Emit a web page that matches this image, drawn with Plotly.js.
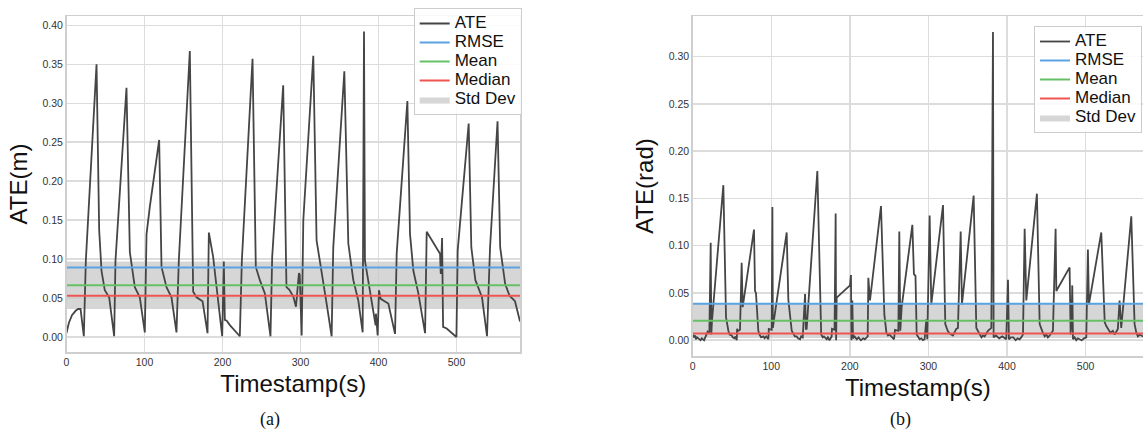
<!DOCTYPE html>
<html>
<head>
<meta charset="utf-8">
<script src="https://cdn.plot.ly/plotly-3.0.1.min.js"></script>
<style>html,body{margin:0;padding:0;background:#fff}#chart{width:1143px;height:432px}</style>
</head>
<body>
<div id="chart"></div>
<script>
// ---- (a) translational ATE (m) ----
const tA = [0, 3, 7, 12, 15, 18, 22.2, 24.8, 38.5, 41.9, 44.9, 49.1, 54.7, 61.1, 62.8, 76.9, 81.2, 87.6, 94, 100.4,
  102.6, 106.8, 118.8, 121.8, 128.2, 134.6, 141, 144, 158.1, 162.4, 166.7, 174.4, 180.8, 182.5, 188, 199.6,
  201.7, 203.0, 205.4, 209.7, 222.2, 224.8, 238.5, 242.7, 247.9, 254.3, 261.5, 263.7, 277.8, 282, 285.5, 290.8,
  294.2, 298, 299, 301.5, 303.6, 316.4, 320.6, 327, 333.5, 339.9, 342, 356.2, 361.3, 367.7, 374.1, 379.7, 381.4,
  382.6, 389, 396.3, 396.7, 398.9, 400.6, 402.8, 412.6, 421.2, 423.3, 437, 440.4, 444.7, 451.1, 459.7, 461.8,
  478.9, 479.8, 481.5, 482.8, 487.4, 499.9, 501.5, 515.6, 519, 524.2, 532.7, 539.1, 543, 552.6, 556, 562.4, 568,
  575, 581.4];
const ateA = [0.005, 0.018, 0.028, 0.034, 0.036, 0.036, 0.001, 0.098, 0.350, 0.137, 0.085, 0.060, 0.051, 0.001, 0.098,
  0.320, 0.109, 0.064, 0.051, 0.006, 0.132, 0.167, 0.253, 0.090, 0.064, 0.051, 0.006, 0.098, 0.367, 0.058, 0.051,
  0.046, 0.005, 0.134, 0.103, 0.001, 0.097, 0.022, 0.021, 0.015, 0.001, 0.098, 0.357, 0.090, 0.073, 0.056, 0.001,
  0.103, 0.323, 0.064, 0.061, 0.052, 0.039, 0.082, 0.080, 0.002, 0.150, 0.361, 0.124, 0.081, 0.043, 0.001, 0.115,
  0.341, 0.120, 0.073, 0.047, 0.006, 0.392, 0.098, 0.060, 0.015, 0.030, 0.002, 0.060, 0.049, 0.043, 0.004, 0.107,
  0.303, 0.132, 0.085, 0.056, 0.005, 0.135, 0.107, 0.081, 0.127, 0.013, 0.011, 0.000, 0.111, 0.274, 0.115, 0.073,
  0.051, 0.001, 0.115, 0.277, 0.115, 0.068, 0.053, 0.046, 0.020];
const statsA = {rmse: 0.0892, mean: 0.0665, median: 0.0529, std: 0.0612};

// ---- (b) rotational ATE (rad) ----
const tB = [0, 1.5, 3, 4, 5.5, 7, 8.5, 10, 11.5, 13, 14.5, 16, 17.8, 19, 21.2, 22.9, 23.7, 24.5, 39, 42.4, 45.4, 47,
  49.6, 51, 53, 54.5, 56, 56.5, 58, 60.2, 62.3, 63.6, 78, 79.3, 80.5, 83.5, 85, 87, 89.9, 91.5, 93.5, 96.3, 96.8,
  100.5, 101.4, 102, 103.5, 119.6, 121.7, 123.5, 126, 128, 130, 132.3, 134, 136.6, 138, 140, 143, 144, 145, 158.6,
  162, 163.5, 165.5, 167, 170.5, 172, 174, 176.8, 177.2, 180.5, 181.9, 182.5, 183.2, 200.2, 201.4, 202, 203.1,
  204, 206, 208.7, 211, 214, 217.1, 219, 222.7, 223.5, 225.6, 239.6, 243.9, 246.5, 248.5, 250.5, 253.2, 256.2,
  257.4, 261.7, 262.9, 264.2, 265.9, 279.5, 281.5, 283.5, 285, 287, 288.8, 291, 293, 295.1, 297.3, 298.5, 301.5,
  303.6, 318.5, 321.4, 324.5, 327, 329, 331.2, 333, 335.4, 337.5, 341, 342.6, 357.5, 360.9, 365, 367.5, 369.5,
  371.5, 373.5, 375.7, 380, 382.1, 382.9, 386, 390, 394, 399, 401.2, 402.4, 405, 408, 411, 413.5, 416, 418, 420.3,
  422.4, 424.5, 438, 441.5, 445.5, 448, 450, 452, 454.2, 458.4, 461.8, 462.7, 479.6, 480.9, 482, 483, 483.9, 486,
  488, 490, 492.3, 495, 498, 500.8, 502.9, 504.2, 519.9, 522.9, 524.3, 526.3, 529, 531.5, 534.7, 537, 539, 541,
  543.2, 545.3, 558.1, 562.3, 564.5, 566.5, 568.7, 571, 573, 578, 581.4];
const ateB = [0.006, 0.003, 0.005, 0.001, 0.003, 0.002, 0.000, 0.000, 0.002, 0.001, 0.000, 0.003, 0.006, 0.009, 0.007,
  0.103, 0.006, 0.020, 0.164, 0.024, 0.010, 0.006, 0.005, 0.003, 0.002, 0.004, 0.000, 0.012, 0.010, 0.011, 0.082,
  0.035, 0.117, 0.052, 0.050, 0.010, 0.006, 0.003, 0.004, 0.002, 0.004, 0.001, 0.012, 0.011, 0.141, 0.013, 0.022,
  0.114, 0.043, 0.031, 0.010, 0.007, 0.004, 0.004, 0.002, 0.001, 0.004, 0.003, 0.049, 0.012, 0.012, 0.179, 0.049,
  0.006, 0.003, 0.004, 0.001, 0.003, 0.000, 0.004, 0.012, 0.011, 0.134, 0.000, 0.045, 0.058, 0.069, 0.000, 0.042,
  0.002, 0.004, 0.001, 0.003, 0.000, 0.002, 0.001, 0.004, 0.066, 0.042, 0.142, 0.027, 0.008, 0.005, 0.006, 0.004,
  0.001, 0.011, 0.010, 0.115, 0.010, 0.035, 0.122, 0.070, 0.068, 0.006, 0.003, 0.001, 0.002, 0.000, 0.001, 0.022,
  0.001, 0.132, 0.038, 0.143, 0.017, 0.010, 0.007, 0.006, 0.005, 0.008, 0.012, 0.013, 0.115, 0.038, 0.153, 0.013,
  0.006, 0.003, 0.005, 0.004, 0.007, 0.010, 0.013, 0.326, 0.003, 0.005, 0.002, 0.004, 0.001, 0.064, 0.001, 0.003,
  0.003, 0.000, 0.002, 0.001, 0.003, 0.006, 0.118, 0.042, 0.155, 0.017, 0.008, 0.004, 0.006, 0.003, 0.005, 0.010,
  0.118, 0.052, 0.077, 0.006, 0.020, 0.058, 0.001, 0.003, 0.000, 0.002, 0.001, 0.000, 0.002, 0.003, 0.096, 0.038,
  0.114, 0.043, 0.019, 0.015, 0.011, 0.008, 0.010, 0.006, 0.009, 0.012, 0.042, 0.013, 0.131, 0.017, 0.008, 0.004,
  0.006, 0.005, 0.004, 0.004, 0.003];
const statsB = {rmse: 0.0385, mean: 0.0205, median: 0.0072, std: 0.0365};

const axisTitles = {x: 'Timestamp(s)', yA: 'ATE(m)', yB: 'ATE(rad)'};
const seriesNames = {ate: 'ATE', rmse: 'RMSE', mean: 'Mean', median: 'Median', std: 'Std Dev'};
const captions = ['(a)', '(b)'];

const C = {ate: '#454545', rmse: '#5aa2e0', mean: '#66c166', median: '#ee5550', std: 'rgba(200,200,200,0.75)'};
const SANS = 'Liberation Sans, Arial, sans-serif';
const LEGEND_TEXT = n => '<span style="font-size:17px">' + n + '</span>';

function panel(t, ate, s, xa, ya, leg) {
  const x0 = t[0], x1 = t[t.length - 1];
  const lo = s.mean - s.std / 2, hi = s.mean + s.std / 2;
  const base = {xaxis: xa, yaxis: ya, legend: leg, type: 'scatter', hoverinfo: 'skip'};
  return [
    Object.assign({}, base, {name: LEGEND_TEXT(seriesNames.std), x: [x0, x1, x1, x0], y: [lo, lo, hi, hi], mode: 'lines', fill: 'toself',
      fillcolor: C.std, line: {width: 0, color: C.std}, legendrank: 5}),
    Object.assign({}, base, {name: LEGEND_TEXT(seriesNames.ate), x: t, y: ate, mode: 'lines', line: {color: C.ate, width: 1.8}, legendrank: 1}),
    Object.assign({}, base, {name: LEGEND_TEXT(seriesNames.rmse), x: [x0, x1], y: [s.rmse, s.rmse], mode: 'lines', line: {color: C.rmse, width: 2}, legendrank: 2}),
    Object.assign({}, base, {name: LEGEND_TEXT(seriesNames.mean), x: [x0, x1], y: [s.mean, s.mean], mode: 'lines', line: {color: C.mean, width: 2}, legendrank: 3}),
    Object.assign({}, base, {name: LEGEND_TEXT(seriesNames.median), x: [x0, x1], y: [s.median, s.median], mode: 'lines', line: {color: C.median, width: 2}, legendrank: 4})
  ];
}

const data = panel(tA, ateA, statsA, 'x', 'y', 'legend').concat(panel(tB, ateB, statsB, 'x2', 'y2', 'legend2'));

const W = 1143, H = 432;
const axBase = {
  showgrid: true, gridcolor: '#dcdcdc', gridwidth: 1.5, zeroline: false,
  showline: true, linecolor: '#cfcfcf', linewidth: 1.5, mirror: true,
  ticks: '', tickfont: {family: SANS, size: 10.5, color: '#333'}
};
const xTitle = {text: axisTitles.x, font: {family: SANS, size: 24, color: '#111'}, standoff: 8};
const legBase = {
  font: {family: SANS, size: 12, color: '#111'}, bgcolor: 'rgba(255,255,255,0.85)', bordercolor: '#cccccc',
  borderwidth: 1, xanchor: 'right', yanchor: 'top', itemwidth: 30, tracegroupgap: 0, traceorder: 'normal'
};

const layout = {
  width: W, height: H, margin: {l: 0, r: 0, t: 0, b: 0}, paper_bgcolor: '#fff', plot_bgcolor: '#fff',
  showlegend: true,
  xaxis: Object.assign({}, axBase, {domain: [66.5 / W, 520 / W], range: [0, 581.4], dtick: 100, tick0: 0, title: xTitle, anchor: 'y'}),
  yaxis: Object.assign({}, axBase, {domain: [(H - 352) / H, (H - 16) / H], range: [-0.0192, 0.412], dtick: 0.05, tick0: 0,
    tickformat: '.2f', anchor: 'x', title: {text: axisTitles.yA, font: {family: SANS, size: 24, color: '#111'}, standoff: 8}}),
  xaxis2: Object.assign({}, axBase, {domain: [692.7 / W, 1], range: [0, 573], dtick: 100, tick0: 0, title: xTitle, anchor: 'y2'}),
  yaxis2: Object.assign({}, axBase, {domain: [(H - 356) / H, (H - 16) / H], range: [-0.0167, 0.343], dtick: 0.05, tick0: 0,
    tickformat: '.2f', anchor: 'x2', title: {text: axisTitles.yB, font: {family: SANS, size: 24, color: '#111'}, standoff: 8}}),
  legend: Object.assign({}, legBase, {x: 521.7 / W, y: (H - 8) / H}),
  legend2: Object.assign({}, legBase, {x: 1142 / W, y: (H - 26) / H}),
  annotations: [
    {text: captions[0], xref: 'paper', yref: 'paper', x: 270 / W, y: (H - 419) / H, xanchor: 'center', yanchor: 'middle',
      showarrow: false, font: {family: 'Liberation Serif, Times New Roman, serif', size: 18, color: '#111'}},
    {text: captions[1], xref: 'paper', yref: 'paper', x: 900 / W, y: (H - 419) / H, xanchor: 'center', yanchor: 'middle',
      showarrow: false, font: {family: 'Liberation Serif, Times New Roman, serif', size: 18, color: '#111'}}
  ]
};

Plotly.newPlot('chart', data, layout, {staticPlot: true, displayModeBar: false});
</script>
</body>
</html>
